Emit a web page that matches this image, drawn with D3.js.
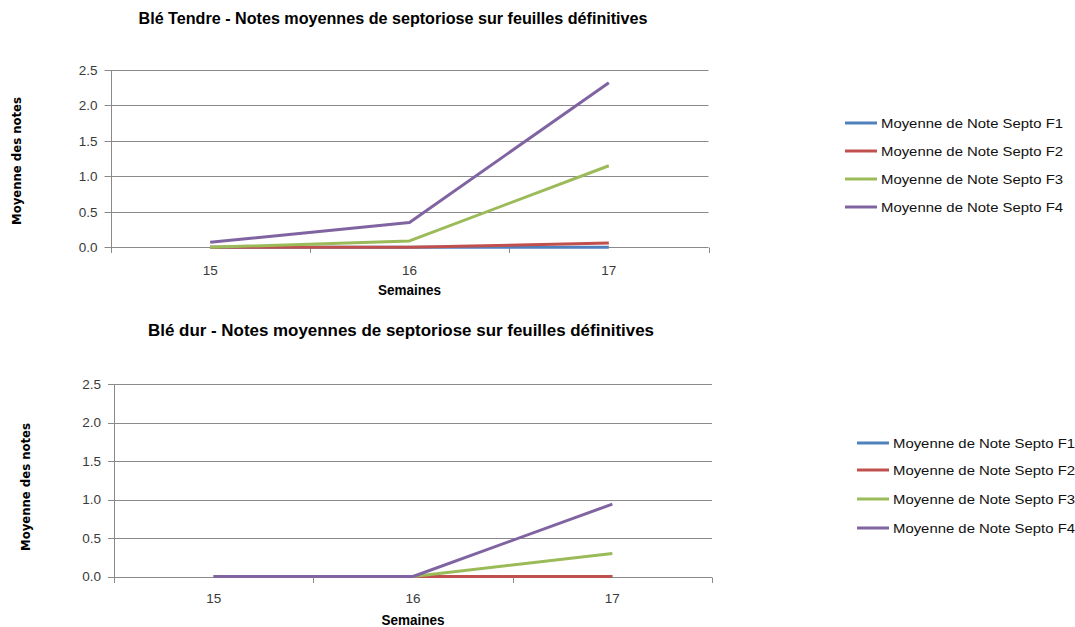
<!DOCTYPE html>
<html>
<head>
<meta charset="utf-8">
<script src="https://cdn.jsdelivr.net/npm/d3@7"></script>
<style>
  html, body { margin: 0; padding: 0; background: #ffffff; }
  svg { display: block; }
</style>
</head>
<body>
<svg id="chart" width="1075" height="627"></svg>
<script>
// Weeks on the x axis and y-axis tick values
const weeks = ["15", "16", "17"];
const yTickValues = [0, 0.5, 1.0, 1.5, 2.0, 2.5];

// Legend / series labels
const seriesNames = [
  "Moyenne de Note Septo F1",
  "Moyenne de Note Septo F2",
  "Moyenne de Note Septo F3",
  "Moyenne de Note Septo F4"
];
const seriesColors = ["#4F81BD", "#C0504D", "#9BBB59", "#8064A2"];

// Blé tendre: mean septoria scores per leaf layer
const tendreF1 = [0, 0, 0];
const tendreF2 = [0, 0, 0.06];
const tendreF3 = [0, 0.09, 1.15];
const tendreF4 = [0.07, 0.35, 2.32];

// Blé dur: mean septoria scores per leaf layer
const durF1 = [0, 0, 0];
const durF2 = [0, 0, 0];
const durF3 = [0, 0, 0.30];
const durF4 = [0, 0, 0.94];

const titles = [
  "Blé Tendre - Notes moyennes de septoriose sur feuilles définitives",
  "Blé dur - Notes moyennes de septoriose sur feuilles définitives"
];
const xAxisTitle = "Semaines";
const yAxisTitle = "Moyenne des notes";

const svg = d3.select("#chart");
const gridColor = "#8a8a8a";
const tickTextColor = "#3a3a3a";

function drawPanel(p) {
  const g = svg.append("g");

  const x = d3.scaleBand().domain(weeks).range([p.left, p.right]);
  const y = d3.scaleLinear().domain([0, 2.5]).range([p.bottom, p.top]);

  // Horizontal gridlines with small outer ticks
  g.selectAll("line.grid").data(yTickValues).join("line")
    .attr("class", "grid")
    .attr("x1", p.left - 6).attr("x2", p.right)
    .attr("y1", d => Math.round(y(d)) + 0.5).attr("y2", d => Math.round(y(d)) + 0.5)
    .attr("stroke", gridColor).attr("stroke-width", 1);

  // Vertical axis line
  g.append("line")
    .attr("x1", Math.round(p.left) + 0.5).attr("x2", Math.round(p.left) + 0.5)
    .attr("y1", Math.round(y(2.5))).attr("y2", Math.round(y(0)) + 1)
    .attr("stroke", gridColor).attr("stroke-width", 1);

  // Category boundary ticks below the x axis
  const bounds = weeks.map(w => x(w)).concat([p.right]);
  g.selectAll("line.xtick").data(bounds).join("line")
    .attr("class", "xtick")
    .attr("x1", d => Math.round(d) + 0.5).attr("x2", d => Math.round(d) + 0.5)
    .attr("y1", Math.round(y(0)) + 0.5).attr("y2", Math.round(y(0)) + 6)
    .attr("stroke", gridColor).attr("stroke-width", 1);

  // Y tick labels
  g.selectAll("text.ytick").data(yTickValues).join("text")
    .attr("class", "ytick")
    .attr("x", p.left - 13)
    .attr("y", d => y(d))
    .attr("dy", "0.35em")
    .attr("text-anchor", "end")
    .attr("font-family", "'Liberation Sans', Arial, sans-serif")
    .attr("font-size", 13.5)
    .attr("fill", tickTextColor)
    .text(d => d3.format(".1f")(d));

  // X tick labels
  g.selectAll("text.xtick").data(weeks).join("text")
    .attr("class", "xtick")
    .attr("x", d => x(d) + x.bandwidth() / 2)
    .attr("y", p.xLabelY)
    .attr("dy", "0.35em")
    .attr("text-anchor", "middle")
    .attr("font-family", "'Liberation Sans', Arial, sans-serif")
    .attr("font-size", 13.5)
    .attr("fill", tickTextColor)
    .text(d => d);

  // Series lines
  const line = d3.line()
    .x((d, i) => x(weeks[i]) + x.bandwidth() / 2)
    .y(d => y(d));
  g.selectAll("path.series").data(p.series).join("path")
    .attr("class", "series")
    .attr("d", d => line(d))
    .attr("fill", "none")
    .attr("stroke", (d, i) => seriesColors[i])
    .attr("stroke-width", 3)
    .attr("stroke-linejoin", "round")
    .attr("stroke-linecap", "butt");

  // Chart title
  g.append("text")
    .attr("x", p.titleX).attr("y", p.titleY)
    .attr("dy", "0.35em")
    .attr("text-anchor", "middle")
    .attr("font-family", "'Liberation Sans Narrow', 'Liberation Sans', Arial, sans-serif")
    .attr("font-weight", "bold")
    .attr("font-size", 16)
    .attr("textLength", p.titleWidth)
    .attr("lengthAdjust", "spacingAndGlyphs")
    .attr("fill", "#000")
    .text(p.title);

  // X axis title
  g.append("text")
    .attr("x", x(weeks[1]) + x.bandwidth() / 2).attr("y", p.xTitleY)
    .attr("dy", "0.35em")
    .attr("text-anchor", "middle")
    .attr("font-family", "'Liberation Sans Narrow', 'Liberation Sans', Arial, sans-serif")
    .attr("font-weight", "bold")
    .attr("font-size", 14)
    .attr("textLength", 63)
    .attr("lengthAdjust", "spacingAndGlyphs")
    .attr("fill", "#000")
    .text(xAxisTitle);

  // Y axis title
  g.append("text")
    .attr("transform", `translate(${p.yTitleX},${p.yTitleY}) rotate(-90)`)
    .attr("dy", "0.35em")
    .attr("text-anchor", "middle")
    .attr("font-family", "'DejaVu Sans', Verdana, sans-serif")
    .attr("font-weight", "bold")
    .attr("font-size", 11.5)
    .attr("textLength", 128)
    .attr("lengthAdjust", "spacingAndGlyphs")
    .attr("fill", "#000")
    .text(yAxisTitle);

  // Legend
  const lg = g.selectAll("g.legend").data(seriesNames).join("g")
    .attr("class", "legend")
    .attr("transform", (d, i) => `translate(${p.legendX},${p.legendRows[i]})`);
  lg.append("line")
    .attr("x1", 0).attr("x2", 32)
    .attr("y1", 0).attr("y2", 0)
    .attr("stroke", (d, i) => seriesColors[i])
    .attr("stroke-width", 3);
  lg.append("text")
    .attr("x", 36).attr("y", 0)
    .attr("dy", "0.35em")
    .attr("font-family", "'Liberation Sans', Arial, sans-serif")
    .attr("font-size", 13.5)
    .attr("textLength", 182)
    .attr("lengthAdjust", "spacingAndGlyphs")
    .attr("fill", "#111")
    .text(d => d);
}

drawPanel({
  title: titles[0],
  titleX: 393, titleY: 18, titleWidth: 509,
  left: 110.5, right: 708.5, top: 70, bottom: 247.3,
  xLabelY: 270, xTitleY: 290,
  yTitleX: 17, yTitleY: 161,
  legendX: 845, legendRows: [123, 151, 179, 207],
  series: [tendreF1, tendreF2, tendreF3, tendreF4]
});

drawPanel({
  title: titles[1],
  titleX: 401, titleY: 330, titleWidth: 506,
  left: 114, right: 712, top: 384, bottom: 576.5,
  xLabelY: 598, xTitleY: 620,
  yTitleX: 26, yTitleY: 487,
  legendX: 857, legendRows: [443, 470, 499, 528],
  series: [durF1, durF2, durF3, durF4]
});
</script>
</body>
</html>
